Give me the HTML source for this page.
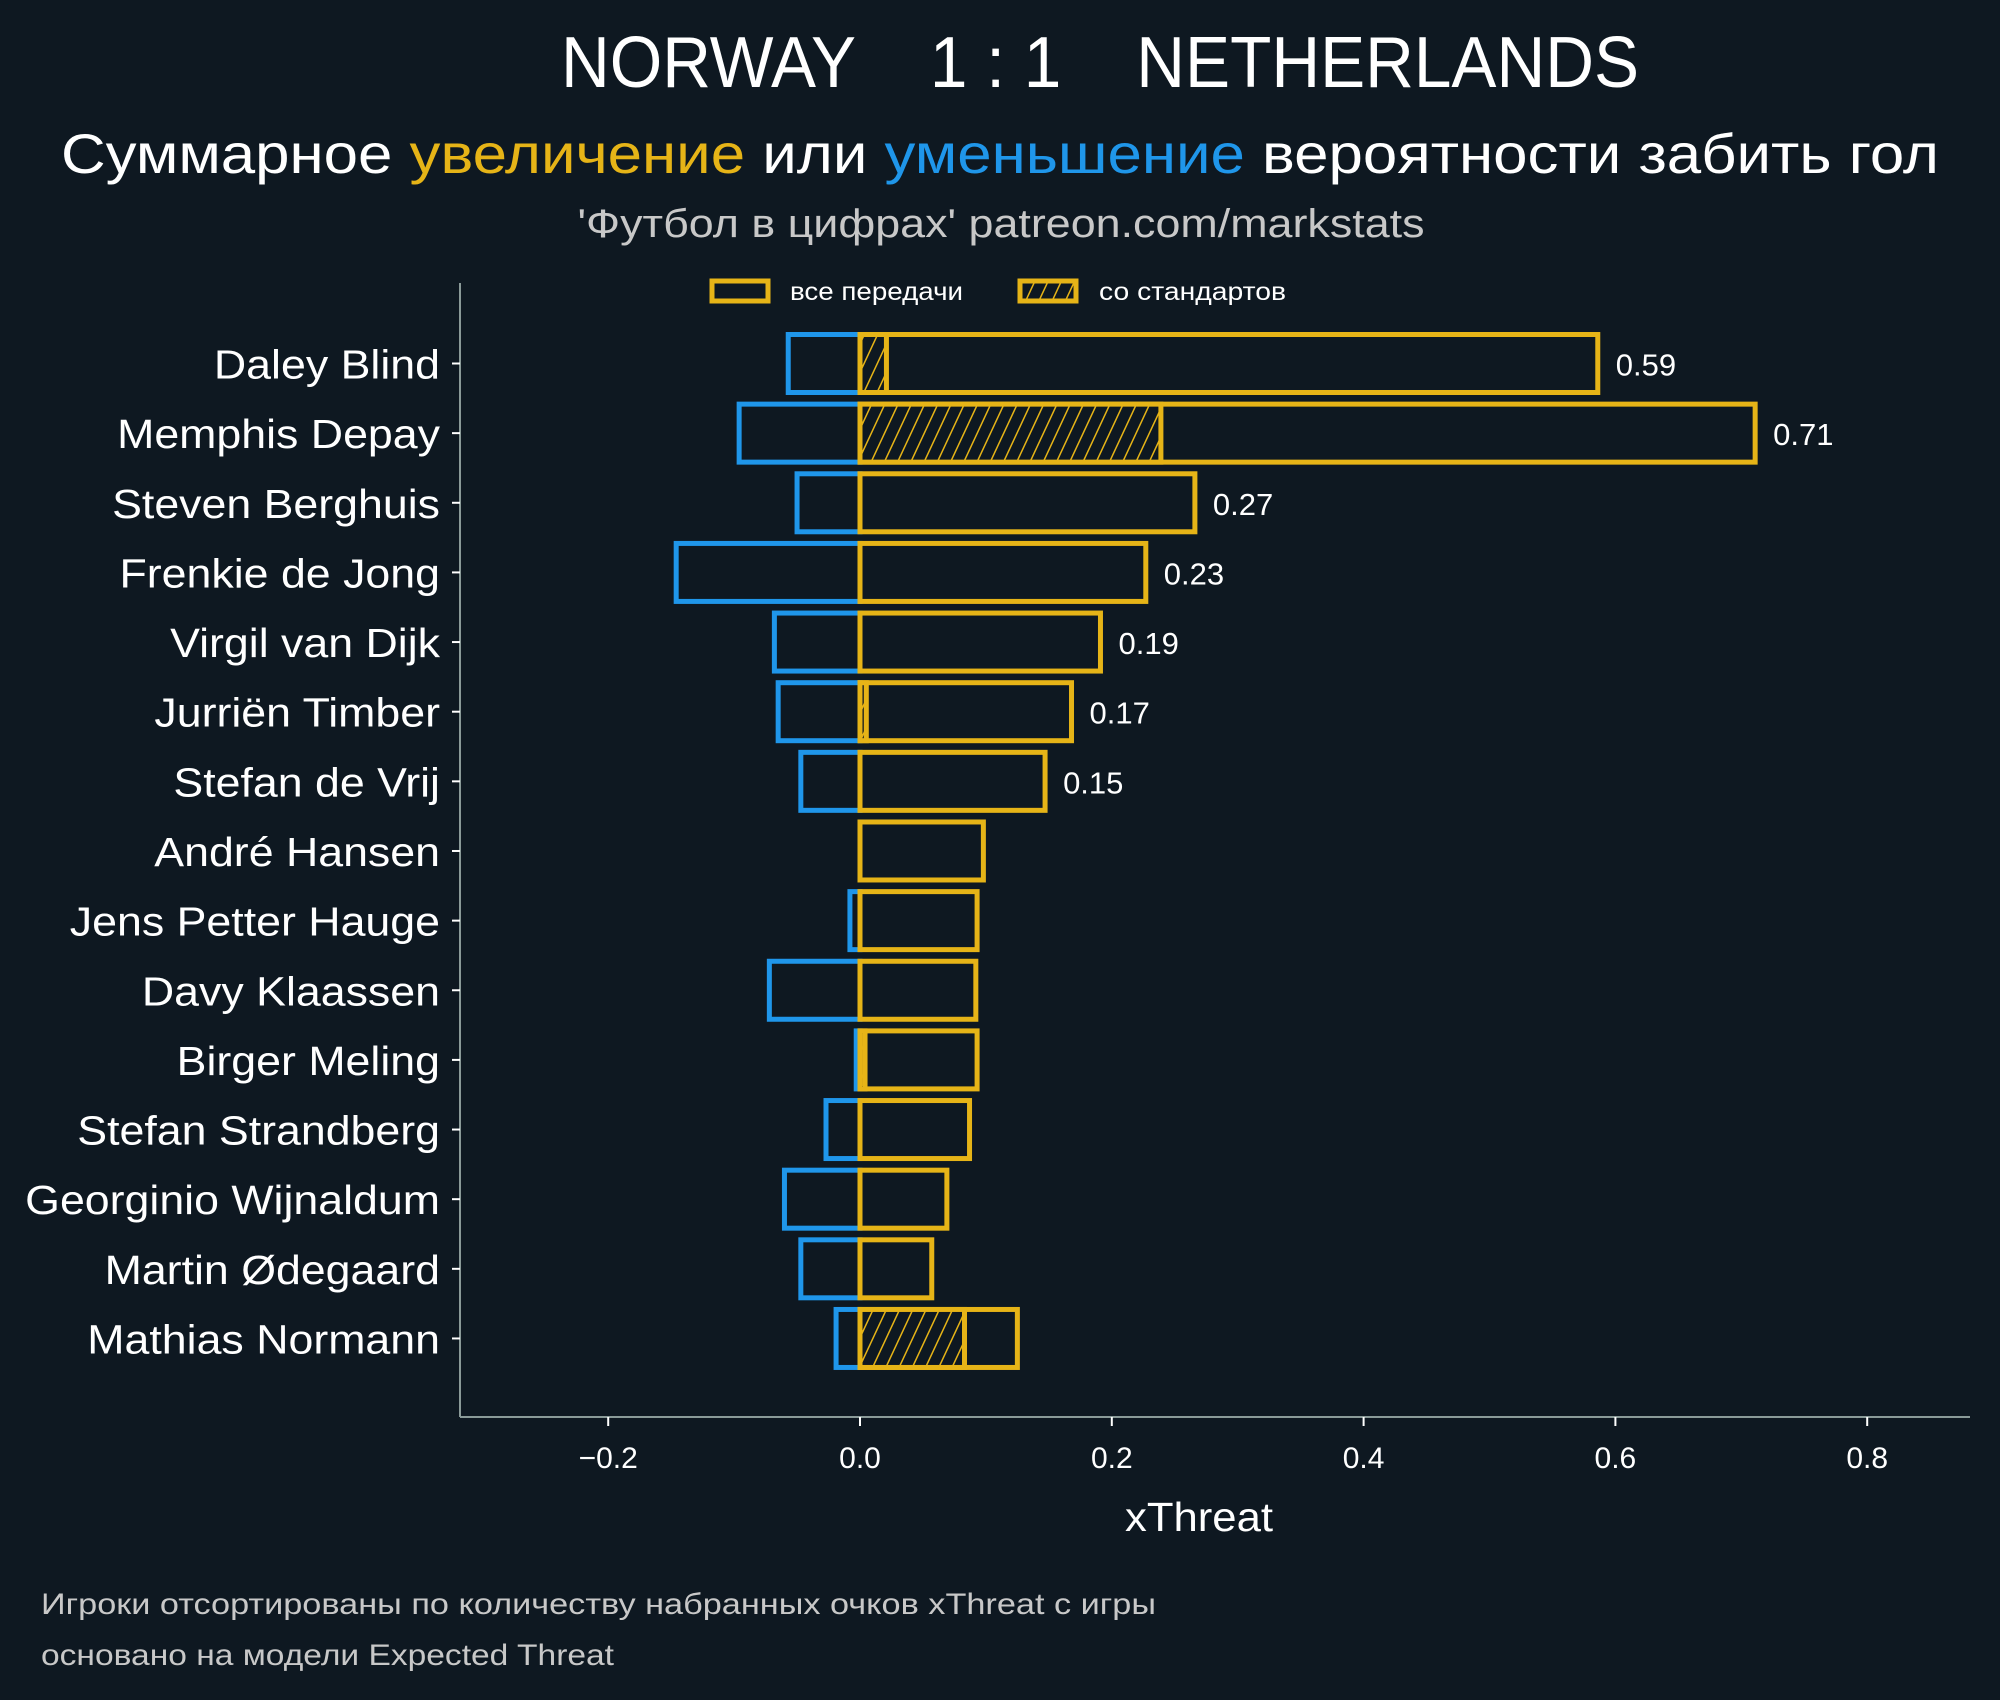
<!DOCTYPE html>
<html><head><meta charset="utf-8"><style>
html,body{margin:0;padding:0;background:#0e1821;}
svg{display:block;font-family:"Liberation Sans","DejaVu Sans",sans-serif;}
</style></head><body>
<svg id="chart" width="2000" height="1700" viewBox="0 0 2000 1700" xmlns="http://www.w3.org/2000/svg">
<defs>
<pattern id="hatch" patternUnits="userSpaceOnUse" width="12" height="12" patternTransform="rotate(25)">
<rect width="12" height="12" fill="#0e1821"/>
<line x1="0" y1="0" x2="0" y2="12" stroke="#e6b417" stroke-width="3"/>
</pattern>
</defs>
<rect width="2000" height="1700" fill="#0e1821"/>
<text x="1100" y="87" text-anchor="middle" font-size="72" fill="#ffffff" textLength="1078" lengthAdjust="spacingAndGlyphs" xml:space="preserve">NORWAY    1 : 1    NETHERLANDS</text>
<text x="1000" y="173" text-anchor="middle" font-size="56" fill="#ffffff" textLength="1878" lengthAdjust="spacingAndGlyphs">Суммарное <tspan fill="#e6b417">увеличение</tspan> или <tspan fill="#1f96ea">уменьшение</tspan> вероятности забить гол</text>
<text x="1001" y="237" text-anchor="middle" font-size="40" fill="#c8c8c8" textLength="847" lengthAdjust="spacingAndGlyphs">'Футбол в цифрах' patreon.com/markstats</text>
<g>
<rect x="712" y="281" width="56" height="20" fill="#0e1821" stroke="#e6b417" stroke-width="5"/>
<text x="790" y="300" font-size="25" fill="#ffffff" textLength="173" lengthAdjust="spacingAndGlyphs">все передачи</text>
<rect x="1020" y="281" width="56" height="20" fill="url(#hatch)" stroke="#e6b417" stroke-width="5"/>
<text x="1099" y="300" font-size="25" fill="#ffffff" textLength="187" lengthAdjust="spacingAndGlyphs">со стандартов</text>
</g>
<g id="plot"></g>
<text x="1199" y="1531" text-anchor="middle" font-size="41" fill="#ffffff" textLength="148" lengthAdjust="spacingAndGlyphs">xThreat</text>
<text x="41" y="1614" font-size="30" fill="#c8c8c8" textLength="1115" lengthAdjust="spacingAndGlyphs">Игроки отсортированы по количеству набранных очков xThreat с игры</text>
<text x="41" y="1665" font-size="30" fill="#c8c8c8" textLength="573" lengthAdjust="spacingAndGlyphs">основано на модели Expected Threat</text>
</svg>
<script>
const players = ["Daley Blind","Memphis Depay","Steven Berghuis","Frenkie de Jong","Virgil van Dijk","Jurriën Timber","Stefan de Vrij","André Hansen","Jens Petter Hauge","Davy Klaassen","Birger Meling","Stefan Strandberg","Georginio Wijnaldum","Martin Ødegaard","Mathias Normann"];
const positive = [0.586,0.711,0.266,0.227,0.191,0.168,0.147,0.098,0.093,0.092,0.093,0.087,0.069,0.057,0.125];
const negative = [-0.057,-0.096,-0.050,-0.146,-0.068,-0.065,-0.047,0,-0.008,-0.072,-0.003,-0.027,-0.060,-0.047,-0.019];
const setPieces = [0.021,0.239,0,0,0,0.005,0,0,0,0,0.004,0,0,0,0.083];
const printed = ["0.59","0.71","0.27","0.23","0.19","0.17","0.15","","","","","","","",""];
const xTicks = [-0.2,0.0,0.2,0.4,0.6,0.8];
const xTickLabels = ["\u22120.2","0.0","0.2","0.4","0.6","0.8"];

const NS="http://www.w3.org/2000/svg";
const g=document.getElementById('plot');
const X0=860, XS=1259;
const x=v=>X0+v*XS;
const Y0=363.5, YS=69.64, BH=58;
const y=i=>Y0+i*YS;
function mk(tag,attrs){const e=document.createElementNS(NS,tag);for(const k in attrs)e.setAttribute(k,attrs[k]);g.appendChild(e);return e;}

let sp=mk('line',{x1:460,y1:283,x2:460,y2:1417,stroke:'#8a9a98','stroke-width':2});


sp=mk('line',{x1:460,y1:1417,x2:1970,y2:1417,stroke:'#8a9a98','stroke-width':2});



xTicks.forEach((t,i)=>{
  const tk=mk('line',{x1:x(t),y1:1417,x2:x(t),y2:1426,stroke:'#ffffff','stroke-width':2});
  
  
  const tl=mk('text',{x:x(t),y:1468,'text-anchor':'middle','font-size':30,fill:'#ffffff'});
  tl.textContent=xTickLabels[i];
  
  
});

players.forEach((p,i)=>{
  const cy=y(i), top=cy-BH/2;
  const tk=mk('line',{x1:452,y1:cy,x2:460,y2:cy,stroke:'#ffffff','stroke-width':2});
  
  
  const nl=mk('text',{x:440,y:cy+15,'text-anchor':'end','font-size':41,fill:'#ffffff'});
  nl.textContent=p;
  
  
  try{const w=nl.getComputedTextLength(); if(w>0){nl.setAttribute('textLength',(w*1.09).toFixed(1));nl.setAttribute('lengthAdjust','spacingAndGlyphs');}}catch(e){}
  if(negative[i]<0){
    const b=mk('rect',{x:x(negative[i]),y:top,width:x(0)-x(negative[i]),height:BH,fill:'none',stroke:'#1f96ea','stroke-width':5});
    
    
  }
  const b=mk('rect',{x:x(0),y:top,width:x(positive[i])-x(0),height:BH,fill:'none',stroke:'#e6b417','stroke-width':5});
  
  
  if(setPieces[i]>0){
    const h=mk('rect',{x:x(0),y:top,width:x(setPieces[i])-x(0),height:BH,fill:'url(#hatch)',stroke:'#e6b417','stroke-width':5});
    
    
  }
  if(printed[i]){
    const vl=mk('text',{x:x(positive[i])+18,y:cy+12,'font-size':31,fill:'#ffffff'});
    vl.textContent=printed[i];
    
    
  }
});
</script>
</body></html>
